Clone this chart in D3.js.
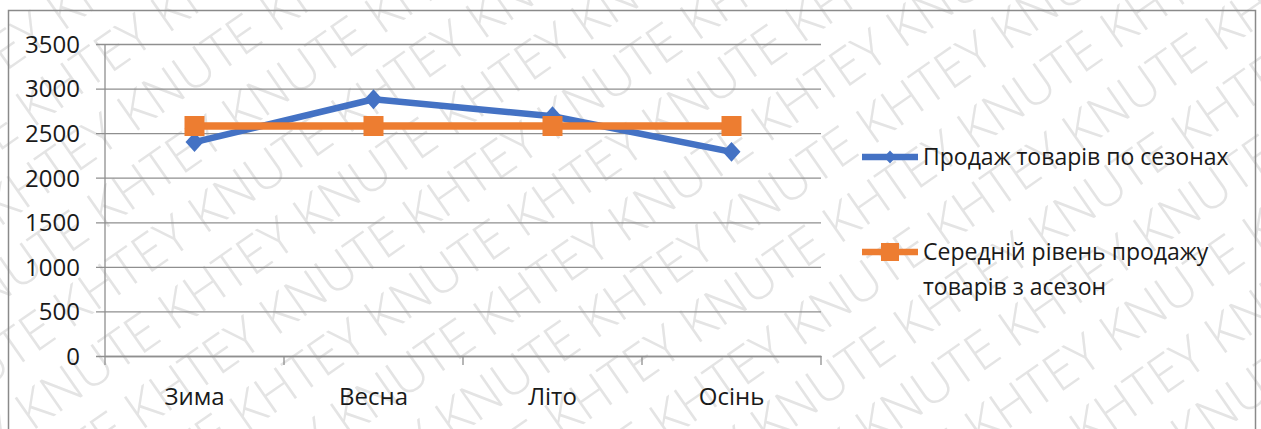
<!DOCTYPE html>
<html><head><meta charset="utf-8">
<script src="https://cdn.jsdelivr.net/npm/d3@7"></script>
<style>body{margin:0;background:#fff;overflow:hidden} svg{display:block}</style>
</head><body><svg id="c" width="1261" height="429"></svg>
<script>
const categories = ["Зима", "Весна", "Літо", "Осінь"];
const salesValues = [2400, 2880, 2690, 2290];
const averageValues = [2580, 2580, 2580, 2580];
const yTicks = [0, 500, 1000, 1500, 2000, 2500, 3000, 3500];
const seriesNames = ["Продаж товарів по сезонах", "Середній рівень продажу товарів з асезон"];
const legendLabelLines = [["Продаж товарів по сезонах"], ["Середній рівень продажу", "товарів з асезон"]];
const watermarkWords = ["KNUTE", "KHTEY"];

const svg = d3.select("#c");
const W = 1261, H = 429;
const FONT = "'Open Sans', 'Noto Sans', sans-serif";
const blue = "#4472C4", orange = "#ED7D31", grid = "#8f8f8f";

svg.append("rect").attr("width", W).attr("height", H).attr("fill", "#fff");

// watermark
const wm = svg.append("g").attr("transform", "rotate(-35)");
const wmSpacing = 62;
for (let r = -6; r < 24; r++) {
  let s = "";
  for (let k = 0; k < 24; k++) s += watermarkWords[(k + r) % 2 === 0 ? 0 : 1] + " ";
  wm.append("text")
    .attr("x", -900 + (r % 2) * 90)
    .attr("y", r * wmSpacing)
    .attr("font-family", FONT).attr("font-weight", 300)
    .attr("font-size", 52).attr("fill", "#e4e4e4")
    .text(s);
}

// outer border
svg.append("rect").attr("x", 8.5).attr("y", 10.5).attr("width", 1247).attr("height", 430)
  .attr("fill", "none").attr("stroke", "#8a8a8a").attr("stroke-width", 1.5);

const x = d3.scaleBand().domain(categories).range([105, 821]).paddingInner(0).paddingOuter(0);
const y = d3.scaleLinear().domain([0, 3500]).range([356, 44]);
const cx = d => x(d) + x.bandwidth() / 2;

// gridlines and y labels
const yAxis = d3.axisLeft(y).tickValues(yTicks).tickSize(-(821 - 96)).tickPadding(0).tickFormat(d3.format("d"));
const gy = svg.append("g").attr("transform", "translate(96,0)").call(yAxis);
gy.select(".domain").remove();
gy.selectAll(".tick line").attr("stroke", grid).attr("stroke-width", 1.3);
gy.selectAll(".tick text").attr("x", -16).attr("dy", "0.35em")
  .attr("font-family", FONT).attr("font-size", 24).attr("fill", "#1a1a1a");

// y axis line
svg.append("line").attr("x1", 105).attr("x2", 105).attr("y1", y(3500)).attr("y2", y(0))
  .attr("stroke", grid).attr("stroke-width", 1.3);

// x axis
const gx = svg.append("g").attr("transform", `translate(0,${y(0)})`)
  .call(d3.axisBottom(x).tickSize(0).tickPadding(0));
gx.select(".domain").attr("stroke", grid).attr("stroke-width", 1.3);
gx.selectAll(".tick text").attr("y", 49).attr("dy", 0)
  .attr("font-family", FONT).attr("font-size", 24).attr("fill", "#1a1a1a");
const bounds = categories.map(c => x(c)).concat([x(categories[categories.length - 1]) + x.bandwidth()]);
gx.selectAll(".sep").data(bounds).join("line").attr("class", "sep")
  .attr("x1", d => d).attr("x2", d => d).attr("y1", 0).attr("y2", 9)
  .attr("stroke", grid).attr("stroke-width", 1.3);

// lines
const line = d3.line().x((d, i) => cx(categories[i])).y(d => y(d));
svg.append("path").datum(salesValues).attr("d", line).attr("fill", "none")
  .attr("stroke", blue).attr("stroke-width", 6.5).attr("stroke-linejoin", "round");
const diamond = {draw(ctx, size) { const r = Math.sqrt(size) / 2; ctx.moveTo(0, -r * 1.1); ctx.lineTo(r, 0); ctx.lineTo(0, r * 1.1); ctx.lineTo(-r, 0); ctx.closePath(); }};
svg.selectAll(".dm").data(salesValues).join("path").attr("class", "dm")
  .attr("transform", (d, i) => `translate(${cx(categories[i])},${y(d)})`)
  .attr("d", d3.symbol().type(diamond).size(18 * 18)).attr("fill", blue);

svg.append("path").datum(averageValues).attr("d", line).attr("fill", "none")
  .attr("stroke", orange).attr("stroke-width", 7.5);
svg.selectAll(".sq").data(averageValues).join("path").attr("class", "sq")
  .attr("transform", (d, i) => `translate(${cx(categories[i])},${y(d)})`)
  .attr("d", d3.symbol().type(d3.symbolSquare).size(20 * 20)).attr("fill", orange);

// legend
const leg = [{c: blue, y: 157, sym: d3.symbol().type(diamond).size(12 * 12)},
             {c: orange, y: 252, sym: d3.symbol().type(d3.symbolSquare).size(18 * 18)}];
leg.forEach((L, i) => {
  svg.append("line").attr("x1", 862).attr("x2", 918).attr("y1", L.y).attr("y2", L.y)
    .attr("stroke", L.c).attr("stroke-width", 6.5);
  svg.append("path").attr("transform", `translate(890,${L.y})`).attr("d", L.sym).attr("fill", L.c);
  legendLabelLines[i].forEach((t, j) => {
    svg.append("text").attr("x", 923).attr("y", L.y + 8 + j * 35)
      .attr("font-family", FONT).attr("font-size", 23).attr("fill", "#1a1a1a")
      .attr("data-series", seriesNames[i]).text(t);
  });
});
</script></body></html>
